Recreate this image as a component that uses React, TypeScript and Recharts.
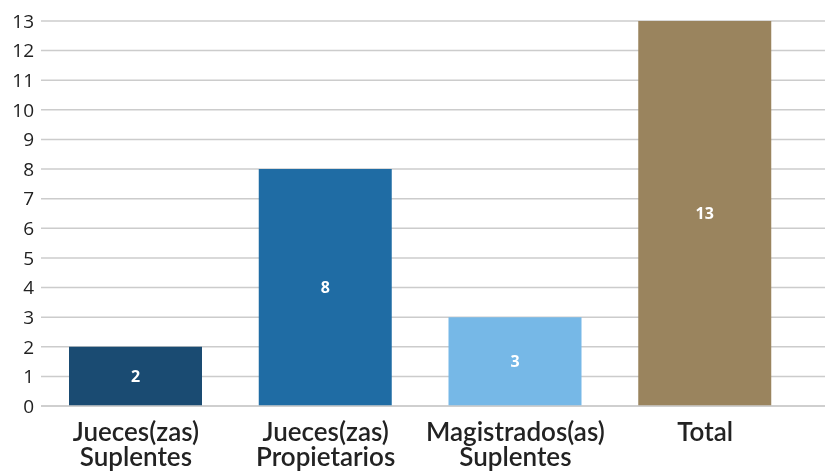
import { BarChart, Bar, XAxis, YAxis, CartesianGrid, Cell, LabelList } from 'recharts';

const categories = ['Jueces(zas)\nSuplentes', 'Jueces(zas)\nPropietarios', 'Magistrados(as)\nSuplentes', 'Total'];
const values = [2, 8, 3, 13];
const colors = ['#1a4b72', '#1f6ca4', '#76b8e7', '#9a845e'];
const yTicks = [0, 1, 2, 3, 4, 5, 6, 7, 8, 9, 10, 11, 12, 13];

const data = categories.map((name, i) => ({ name, value: values[i] }));

function CategoryTick(props: any) {
  const { x, y, payload } = props;
  const lines = String(payload.value).split('\n');
  return (
    <text
      x={x}
      y={y}
      textAnchor="middle"
      fill="#222"
      fontFamily="Lato"
      fontWeight={600}
      fontSize={26}
    >
      {lines.map((line, i) => (
        <tspan key={i} x={x} dy={i === 0 ? 27 : 25}>
          {line}
        </tspan>
      ))}
    </text>
  );
}

export default function App() {
  return (
    <div style={{ position: 'fixed', top: 0, left: 0, width: 825, height: 472, overflow: 'hidden' }}>
      <BarChart
        width={858}
        height={472}
        data={data}
        margin={{ top: 21, right: 0, bottom: 0, left: 11 }}
      >
        <CartesianGrid vertical={false} stroke="#cccccc" strokeWidth={1.5} />
        <XAxis
          dataKey="name"
          axisLine={{ stroke: '#cccccc', strokeWidth: 1.5 }}
          tickLine={false}
          interval={0}
          height={66}
          padding={{ left: 0, right: 58 }}
          tick={<CategoryTick />}
        />
        <YAxis
          width={30}
          domain={[0, 13]}
          ticks={yTicks}
          interval={0}
          axisLine={false}
          tickLine={false}
          tickSize={0}
          tickMargin={7}
          tick={{ fill: '#222', fontSize: 19, fontFamily: 'Open Sans' }}
        />
        <Bar dataKey="value" barSize={133} isAnimationActive={false}>
          {data.map((d, i) => (
            <Cell key={d.name} fill={colors[i]} />
          ))}
          <LabelList
            dataKey="value"
            position="center"
            fill="#ffffff"
            fontFamily="Open Sans"
            fontWeight={700}
            fontSize={16}
          />
        </Bar>
      </BarChart>
    </div>
  );
}
